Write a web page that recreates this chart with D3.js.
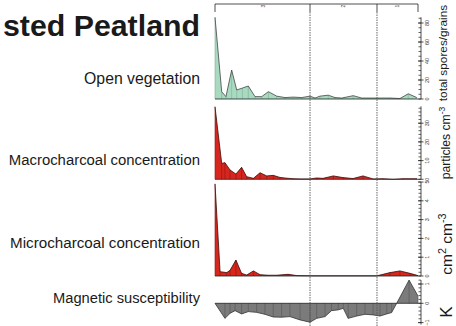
<!DOCTYPE html>
<html>
<head>
<meta charset="utf-8">
<script src="https://cdn.jsdelivr.net/npm/d3@7"></script>
<style>
  html, body { margin: 0; padding: 0; background: #fff; }
  svg { display: block; font-family: "Liberation Sans", Arial, sans-serif; }
</style>
</head>
<body>
<svg id="chart" width="456" height="326"></svg>
<script>
// Sample depths (relative position along the core, 0–100) and measured values
const vegDepth   = [0, 3.3, 5.4, 8.2, 10.7, 13.5, 16.4, 19.7, 23, 26.3, 30.4, 34.5, 38.6, 42.7, 46.8, 49.3, 51.7, 55.8, 59.1, 62.4, 68.1, 72.3, 79.7, 86.2, 91.1, 95.2, 99.4];
const vegValues  = [86, 7.7, 2.5, 30.5, 9.5, 11.5, 13.7, 2.5, 2.5, 7.7, 3, 1.5, 2, 1.5, 3, 1, 3, 4, 1.5, 1, 3.5, 1, 1, 1, 0.5, 5.5, 1.5];

const macroDepth  = [0, 3.3, 4.9, 7.4, 10.3, 13.1, 15.6, 18.9, 22.2, 25.5, 28.7, 32, 35.3, 38.4, 41.9, 46.8, 50.1, 53.2, 58.3, 63.1, 68, 72.9, 77.9, 82.8, 87.7, 92.6, 99.5];
const macroValues = [38.8, 8.5, 8.9, 5, 2.8, 6.4, 1.4, 0.5, 3.5, 1.8, 2.1, 1, 0.6, 0.3, 0.2, 0.2, 0.7, 0.5, 1.8, 0.9, 0.4, 1.8, 0.2, 0.3, 0, 0.3, 0.3];

const microDepth  = [0, 2.5, 5.8, 7.4, 10.3, 13.1, 15.6, 18.9, 22.2, 26.1, 30.4, 36, 40.3, 46.8, 55, 65, 79.8, 86.2, 91.1, 96.1, 100];
const microValues = [4.9, 0.23, 0.18, 0.3, 0.85, 0.14, 0.05, 0.27, 0.07, 0.04, 0.04, 0.09, 0.02, 0.01, 0.01, 0.01, 0.01, 0.18, 0.27, 0.14, 0.02];

const magDepth  = [0, 4.9, 7.4, 9.9, 13.1, 16.4, 20.5, 24.6, 28.7, 32.8, 36.9, 41.9, 46.8, 50.1, 54.2, 57.4, 60.7, 63.2, 65.6, 69.8, 73.9, 77.9, 81.3, 84.6, 87, 89.5, 95.6, 100];
const magValues = [0, -0.78, -0.52, -0.38, -0.55, -0.43, -0.47, -0.57, -0.71, -0.72, -0.69, -0.86, -0.98, -0.78, -0.69, -0.38, -0.34, -0.26, -0.78, -0.66, -0.57, -0.6, -0.66, -0.55, -0.48, 0, 1.2, 0.38];

// Zone boundaries and labels for the top bracket
const zoneBounds = [0, 46.8, 79.8, 100];
const zoneLabels = ["3", "2", "1"];

const panelLabels = ["Open vegetation", "Macrocharcoal concentration", "Microcharcoal concentration", "Magnetic susceptibility"];

const svg = d3.select("#chart");
const x = d3.scaleLinear().domain([0, 100]).range([215, 418]);
const axisX = 421;

// Title
svg.append("text")
  .attr("x", 200).attr("y", 36)
  .attr("text-anchor", "end")
  .attr("font-weight", "bold")
  .attr("font-size", 30.3)
  .attr("fill", "#1a1a1a")
  .text("sted Peatland");

// Panels
const panels = [
  { depth: vegDepth, values: vegValues, y: d3.scaleLinear().domain([0, 80]).range([99, 23]),
    extent: [0, 86], major: 20, minor: 5, fill: "#a8dac0", stroke: "#444", inner: "#7fae97",
    label: panelLabels[0], labelY: 84, labelSize: 15.8 },
  { depth: macroDepth, values: macroValues, y: d3.scaleLinear().domain([0, 30]).range([179.3, 123.2]),
    extent: [0, 39], major: 10, minor: 2, fill: "#d7261e", stroke: "#3a0d0b", inner: "#8e1410",
    label: panelLabels[1], labelY: 165, labelSize: 14.9 },
  { depth: microDepth, values: microValues, y: d3.scaleLinear().domain([0, 5]).range([276, 182]),
    extent: [0, 5], major: 1, minor: 0.2, fill: "#d7261e", stroke: "#3a0d0b", inner: "#8e1410",
    label: panelLabels[2], labelY: 248, labelSize: 15.2 },
  { depth: magDepth, values: magValues, y: d3.scaleLinear().domain([-1, 1]).range([322.6, 284]),
    extent: [-1.1, 1.2], major: 1, minor: 0.2, fill: "#7b7b7b", stroke: "#333", inner: "#555",
    label: panelLabels[3], labelY: 303, labelSize: 14.7 }
];

const fmt = d3.format("d");

panels.forEach(p => {
  const pts = p.depth.map((d, i) => [d, p.values[i]]);
  const area = d3.area().x(d => x(d[0])).y0(p.y(0)).y1(d => p.y(d[1]));
  const line = d3.line().x(d => x(d[0])).y(d => p.y(d[1]));

  svg.append("path").datum(pts).attr("d", area).attr("fill", p.fill);

  // thin lines at each sample
  svg.append("g").selectAll("line").data(pts).join("line")
    .attr("x1", d => x(d[0])).attr("x2", d => x(d[0]))
    .attr("y1", p.y(0)).attr("y2", d => p.y(d[1]))
    .attr("stroke", p.inner).attr("stroke-width", 0.6);

  svg.append("path").datum(pts).attr("d", line)
    .attr("fill", "none").attr("stroke", p.stroke).attr("stroke-width", 0.8);

  // baseline
  svg.append("line")
    .attr("x1", x(0)).attr("x2", x(100))
    .attr("y1", p.y(0)).attr("y2", p.y(0))
    .attr("stroke", "#222").attr("stroke-width", 0.8);

  // right-hand value axis
  const g = svg.append("g");
  g.append("line")
    .attr("x1", axisX).attr("x2", axisX)
    .attr("y1", p.y(p.extent[0])).attr("y2", p.y(p.extent[1]))
    .attr("stroke", "#222").attr("stroke-width", 0.8);
  const minorTicks = d3.range(Math.ceil(p.extent[0] / p.minor) * p.minor, p.extent[1] + 1e-9, p.minor);
  g.selectAll("line.minor").data(minorTicks).join("line").attr("class", "minor")
    .attr("x1", axisX - 2.5).attr("x2", axisX)
    .attr("y1", d => p.y(d)).attr("y2", d => p.y(d))
    .attr("stroke", "#222").attr("stroke-width", 0.7);
  const majorTicks = d3.range(Math.ceil(p.extent[0] / p.major) * p.major, p.extent[1] + 1e-9, p.major);
  g.selectAll("line.major").data(majorTicks).join("line").attr("class", "major")
    .attr("x1", axisX - 3).attr("x2", axisX + 2.5)
    .attr("y1", d => p.y(d)).attr("y2", d => p.y(d))
    .attr("stroke", "#222").attr("stroke-width", 0.8);
  g.selectAll("text").data(majorTicks).join("text")
    .attr("transform", d => `translate(${axisX + 8},${p.y(d)}) rotate(-90)`)
    .attr("text-anchor", "middle")
    .attr("font-size", 5.5).attr("fill", "#333")
    .text(d => fmt(d));

  // panel label
  svg.append("text")
    .attr("x", 200).attr("y", p.labelY)
    .attr("text-anchor", "end")
    .attr("font-size", p.labelSize).attr("fill", "#1a1a1a")
    .text(p.label);
});

// Top zone bracket
const br = svg.append("g");
br.append("line").attr("x1", x(0)).attr("x2", x(100)).attr("y1", 4).attr("y2", 4)
  .attr("stroke", "#222").attr("stroke-width", 0.8);
br.selectAll("line.tick").data(zoneBounds).join("line").attr("class", "tick")
  .attr("x1", d => x(d)).attr("x2", d => x(d)).attr("y1", 4).attr("y2", 12)
  .attr("stroke", "#222").attr("stroke-width", 0.8);
br.selectAll("text").data(zoneLabels).join("text")
  .attr("transform", (d, i) => `translate(${x((zoneBounds[i] + zoneBounds[i + 1]) / 2)},6) rotate(-90)`)
  .attr("text-anchor", "middle").attr("dominant-baseline", "central")
  .attr("font-size", 5).attr("fill", "#444")
  .text(d => d);

// Dashed zone boundaries
svg.selectAll("line.zone").data(zoneBounds.slice(1, -1)).join("line").attr("class", "zone")
  .attr("x1", d => x(d)).attr("x2", d => x(d)).attr("y1", 12).attr("y2", 326)
  .attr("stroke", "#555").attr("stroke-width", 0.9).attr("stroke-dasharray", "1.5,1");

// Axis titles
function vtitle(cx, cy, size, parts) {
  const t = svg.append("text")
    .attr("transform", `translate(${cx},${cy}) rotate(-90)`)
    .attr("text-anchor", "middle")
    .attr("font-size", size).attr("fill", "#1a1a1a");
  parts.forEach(([s, sup]) => {
    const ts = t.append("tspan").text(s);
    if (sup) ts.attr("baseline-shift", "super").attr("font-size", size * 0.7);
  });
}
vtitle(447, 53, 11.8, [["total spores/grains", false]]);
vtitle(450, 143, 12.2, [["particles cm", false], ["-3", true]]);
vtitle(452, 244, 15.5, [["cm", false], ["2", true], [" cm", false], ["-3", true]]);
vtitle(452, 312, 17, [["K", false]]);
</script>
</body>
</html>
